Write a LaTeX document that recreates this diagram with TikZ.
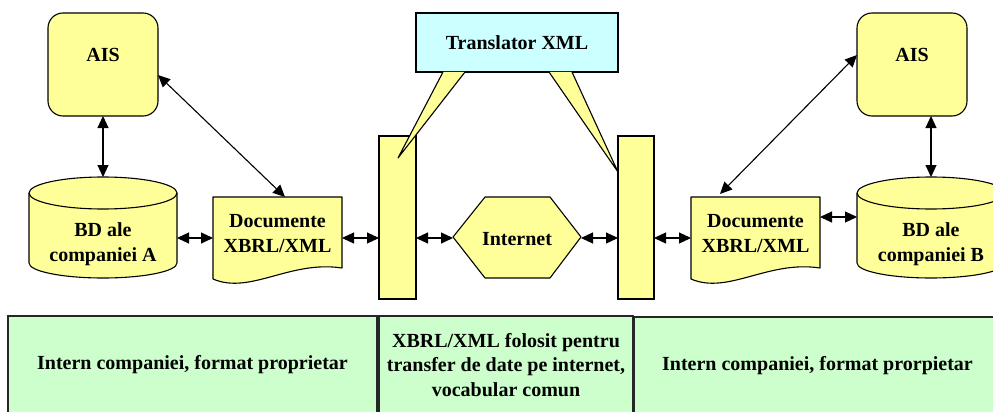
\documentclass[tikz,border=0pt]{standalone}
\usepackage{fontspec}
\setmainfont{Liberation Serif}
\usetikzlibrary{arrows.meta,calc}
\definecolor{yel}{HTML}{FFFF99}
\definecolor{cya}{HTML}{CCFFFF}
\definecolor{grn}{HTML}{CCFFCC}
\begin{document}
\begin{tikzpicture}[x=1pt,y=-1pt,
  font=\fontsize{20}{24.5}\selectfont\bfseries,
  yshape/.style={draw=black, fill=yel, line width=1.1pt, line join=round},
  boxnode/.style={draw=black, line width=1.1pt, inner sep=0pt, outer sep=0pt},
  txt/.style={align=center, inner sep=0pt},
  bottombox/.style={draw=black!85, fill=grn, line width=1.6pt, inner sep=0pt, outer sep=0pt, align=center},
  arr/.style={{Triangle[length=12pt,width=11pt]}-{Triangle[length=12pt,width=11pt]}, line width=1.1pt}
]
\useasboundingbox (0,0) rectangle (993,412);

% bottom boxes
\node[bottombox, minimum width=369pt, minimum height=98pt] (boxL) at (192.5,365) {Intern companiei, format proprietar};
\node[bottombox, minimum width=254pt, minimum height=98pt] (boxM) at (506,365) {XBRL/XML folosit pentru\\transfer de date pe internet,\\vocabular comun};
\node[bottombox, minimum width=367pt, minimum height=97pt] (boxR) at (817.5,365.5) {Intern companiei, format prorpietar};

% AIS boxes
\node[boxnode, fill=yel, rounded corners=15pt, minimum width=110pt, minimum height=103pt] (aisL) at (103,64.5) {};
\node[txt] (aisLt) at (103,55) {AIS};
\node[boxnode, fill=yel, rounded corners=15pt, minimum width=110pt, minimum height=103pt] (aisR) at (912,64.5) {};
\node[txt] (aisRt) at (912,55) {AIS};

% Translator box
\node[boxnode, fill=cya, minimum width=202pt, minimum height=59pt] (trans) at (517,42.5) {Translator XML};

% bars
\node[boxnode, fill=yel, minimum width=37pt, minimum height=163pt] (barL) at (397.5,217.5) {};
\node[boxnode, fill=yel, minimum width=36pt, minimum height=163pt] (barR) at (636,217.5) {};

% callouts
\fill[yel] (443,72) -- (398,158) -- (465,72) -- cycle;
\draw[line width=1.1pt, line join=round] (443,72) -- (398,158) -- (465,72);
\fill[yel] (549,72) -- (618,172) -- (572,72) -- cycle;
\draw[line width=1.1pt, line join=round] (549,72) -- (618,172) -- (572,72);

% left cylinder
\path[yshape] (29,193) -- (29,263) arc[start angle=180, end angle=360, x radius=74pt, y radius=15pt]
  -- (177,193) arc[start angle=0, end angle=180, x radius=74pt, y radius=16pt] -- cycle;
\draw[line width=1.1pt] (29,193) arc[start angle=180, end angle=360, x radius=74pt, y radius=16pt];
\node[txt] (cylLt) at (103,244) {BD ale\\companiei A};

% right cylinder
\path[yshape] (857,193) -- (857,263) arc[start angle=180, end angle=360, x radius=74pt, y radius=15pt]
  -- (1005,193) arc[start angle=0, end angle=180, x radius=74pt, y radius=16pt] -- cycle;
\draw[line width=1.1pt] (857,193) arc[start angle=180, end angle=360, x radius=74pt, y radius=16pt];
\node[txt] (cylRt) at (931,244) {BD ale\\companiei B};

% left document
\path[yshape] (213,197) -- (342,197) -- (342,268) .. controls (290,260) and (250,295) .. (213,279) -- cycle;
\node[txt] (docLt) at (277.5,233.5) {Documente\\XBRL/XML};

% right document
\path[yshape] (691,197) -- (820,197) -- (820,268) .. controls (768,260) and (728,295) .. (691,279) -- cycle;
\node[txt] (docRt) at (755.5,233.5) {Documente\\XBRL/XML};

% hexagon
\path[yshape] (453,237) -- (485,197) -- (550,197) -- (581,237) -- (550,278) -- (485,278) -- cycle;
\node[txt] (inet) at (517,239) {Internet};

% connector coordinates
\coordinate (cylLn) at (103,177);
\coordinate (cylLe) at (177,238);
\coordinate (docLw) at (213,238);
\coordinate (docLe) at (342,238);
\coordinate (docLn) at (285,197);
\coordinate (aisLd) at (158,75);
\coordinate (hexW) at (453,238);
\coordinate (hexE) at (581,238);
\coordinate (docRw) at (691,238);
\coordinate (docRe) at (820,217);
\coordinate (docRn) at (720,194);
\coordinate (cylRw) at (857,217);
\coordinate (cylRn) at (931,177);
\coordinate (aisRs) at (931,116);
\coordinate (aisRd) at (857,55);

% connectors
\draw[arr] (aisL.south) -- (cylLn);
\draw[arr] (aisLd) -- (docLn);
\draw[arr] (cylLe) -- (docLw);
\draw[arr] (docLe) -- (docLe -| barL.west);
\draw[arr] (hexW -| barL.east) -- (hexW);
\draw[arr] (hexE) -- (hexE -| barR.west);
\draw[arr] (docRw -| barR.east) -- (docRw);
\draw[arr] (docRe) -- (cylRw);
\draw[arr] (aisRs) -- (cylRn);
\draw[arr] (aisRd) -- (docRn);
\end{tikzpicture}
\end{document}
